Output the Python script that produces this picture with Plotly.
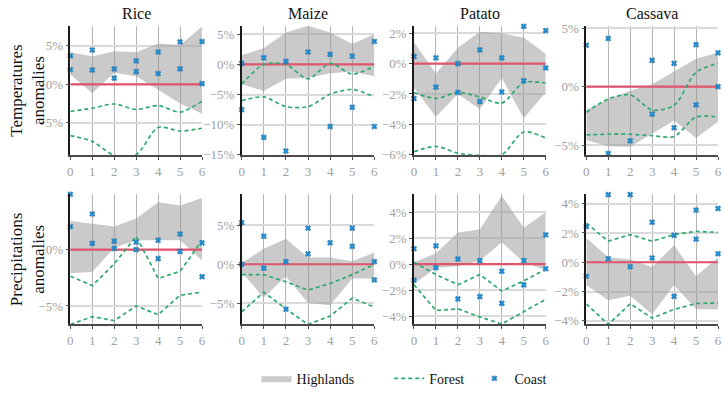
import plotly.graph_objects as go

crops = ["Rice", "Maize", "Patato", "Cassava"]
steps = [0, 1, 2, 3, 4, 5, 6]
row_titles = ["Temperatures<br>anomalies", "Precipitations<br>anomalies"]
legend_names = ["Highlands", "Forest", "Coast"]

# ---------------- Temperatures (top row) ----------------
temp_high_upper = [
    [4.15, 3.6, 4.3, 4.15, 5.3, 5.1, 7.5],
    [1.5, 2.7, 5.3, 6.4, 5.3, 3.4, 5.0],
    [1.4, -0.65, 1.05, 2.1, 2.0, 1.7, 0.65],
    [-2.0, -1.05, -0.35, 0.2, 1.3, 2.4, 2.9],
]
temp_high_lower = [
    [1.27, -1.14, 1.5, 1.06, -0.7, -2.5, -3.8],
    [-3.3, -4.4, -2.4, -2.25, -1.45, -1.2, -2.0],
    [-1.6, -3.5, -2.0, -3.0, -0.95, -3.6, -1.9],
    [-4.6, -5.1, -5.15, -4.0, -2.9, -4.4, -3.0],
]
temp_forest_a = [
    [-3.5, -3.1, -2.55, -3.25, -2.75, -3.6, -2.2],
    [-3.3, 0.0, 0.0, -2.4, 0.15, -1.6, -0.3],
    [-1.9, -2.3, -1.9, -2.2, -2.6, -1.25, -1.28],
    [-2.2, -1.05, -0.7, -2.0, -1.6, 1.23, 2.0],
]
temp_forest_b = [
    [-6.65, -7.4, -9.2, -9.1, -5.6, -6.05, -5.7],
    [-6.0, -5.4, -7.0, -7.0, -4.95, -4.15, -5.4],
    [-5.8, -5.45, -5.9, -6.05, -6.0, -4.5, -4.9],
    [-4.13, -4.08, -4.08, -4.2, -4.27, -2.6, -2.6],
]
temp_coast_a = [
    [3.7, 4.45, 2.0, 3.05, 4.2, 5.5, 5.55],
    [0.15, 1.1, 0.5, 2.05, 1.65, 1.35, 3.8],
    [0.47, 0.38, 0.0, 0.9, 0.38, 2.45, 2.17],
    [3.55, 4.13, 5.2, 2.26, 2.0, 3.6, 2.9],
]
temp_coast_b = [
    [1.9, 1.86, 0.8, 1.65, 1.4, 2.0, 0.1],
    [-7.5, -12.1, -14.35, -15.15, -10.3, -7.1, -10.3],
    [-2.3, -1.55, -1.9, -2.5, -1.87, -1.13, -0.28],
    [-5.95, -5.73, -4.64, -2.35, -3.52, -1.56, 0.0],
]
temp_ranges = [[-9.23, 7.52], [-15.1, 6.3], [-6.05, 2.45], [-5.9, 5.17]]
temp_ticks = [[-5, 0, 5], [-15, -10, -5, 0, 5], [-6, -4, -2, 0, 2], [-5, 0, 5]]

# ---------------- Precipitations (bottom row) ----------------
prec_high_upper = [
    [2.53, 2.27, 2.04, 2.75, 4.2, 3.9, 4.57],
    [0.13, 2.0, 3.25, 0.88, 0.88, 0.38, 1.5],
    [0.15, 0.84, 2.44, 2.67, 5.26, 2.8, 4.0],
    [1.67, 0.33, 0.18, -0.33, 1.16, -0.96, 0.33],
]
prec_high_lower = [
    [-2.1, -2.0, 0.17, 0.83, 0.83, 0.83, -0.97],
    [-1.0, -4.3, -1.54, -4.96, -5.25, -1.83, -1.83],
    [-1.5, -0.3, -0.15, 0.27, 1.68, 0.15, -0.47],
    [-1.56, -2.6, -2.29, -3.56, -1.56, -3.22, -3.22],
]
prec_forest_a = [
    [-2.36, -3.2, -1.26, 1.18, -2.56, -1.93, 0.83],
    [-1.33, -1.33, -2.25, -3.3, -2.46, -1.33, 0.0],
    [0.15, -0.79, -1.58, -0.79, -2.07, -1.28, -0.4],
    [2.67, 1.44, 1.89, 1.44, 1.89, 2.11, 2.04],
]
prec_forest_b = [
    [-6.64, -5.95, -6.3, -5.0, -5.77, -4.05, -3.77],
    [-6.08, -3.58, -5.7, -7.7, -6.63, -4.33, -5.47],
    [-1.58, -3.56, -3.43, -4.05, -4.6, -3.68, -2.7],
    [-2.84, -4.25, -2.84, -3.82, -3.22, -2.82, -2.78],
]
prec_coast_a = [
    [4.9, 3.16, 0.75, 0.66, 0.83, 1.38, 0.6],
    [5.33, 3.58, 0.33, 4.63, 8.96, 4.63, 0.33],
    [1.19, 1.41, 0.4, 0.27, -0.54, 0.28, 2.26],
    [2.44, 4.62, 4.62, 2.73, 1.84, 3.56, 3.67],
]
prec_coast_b = [
    [2.04, 0.55, 0.1, 0.0, -0.8, -0.17, -2.4],
    [0.0, -0.5, -5.75, 1.33, 2.75, 2.29, -2.0],
    [-1.23, -0.27, -2.67, -2.49, -3.01, -1.59, -0.35],
    [-0.96, 0.24, -0.31, 0.29, -2.33, 1.58, 0.58],
]
prec_ranges = [[-6.64, 4.9], [-7.7, 8.95], [-4.63, 5.37], [-4.25, 4.64]]
prec_ticks = [[-5, 0], [-5, 0, 5], [-4, -2, 0, 2, 4], [-4, -2, 0, 2, 4]]

zero_level = 0

# ---------------- style ----------------
W, H = 724, 413
SERIF = "Liberation Serif, DejaVu Serif, serif"
GRAY_FILL = "rgba(150,150,150,0.5)"
GREEN = "#2eaa6b"
BLUE = "#1f8dd0"
RED = "#e3546c"
TICK_COL = "#a0a0a0"

col_px = [(68, 201), (241, 375), (415, 548), (589, 722)]
row_px = [(22, 155), (195, 329)]
legend_keys = ["legend", "legend2", "legend3"]
legend_x_px = [256, 390, 476]


def fmt(v):
    s = f"{v:g}%"
    return s.replace("-", "\u2212")


fig = go.Figure()
rows = [
    (temp_high_upper, temp_high_lower, temp_forest_a, temp_forest_b,
     temp_coast_a, temp_coast_b, temp_ranges, temp_ticks, "spline"),
    (prec_high_upper, prec_high_lower, prec_forest_a, prec_forest_b,
     prec_coast_a, prec_coast_b, prec_ranges, prec_ticks, "linear"),
]

layout_axes = {}
idx = 0
for r, (hu, hl, fa, fb, ca, cb, rng, tks, shape) in enumerate(rows):
    for c in range(4):
        idx += 1
        xa = "x" if idx == 1 else f"x{idx}"
        ya = "y" if idx == 1 else f"y{idx}"
        first = (idx == 1)
        # Highlands band
        fig.add_trace(go.Scatter(x=steps, y=hl[c], xaxis=xa, yaxis=ya, mode="lines",
                                 line=dict(width=0), showlegend=False, hoverinfo="skip"))
        fig.add_trace(go.Scatter(x=steps, y=hu[c], xaxis=xa, yaxis=ya, mode="lines",
                                 line=dict(width=0), fill="tonexty", fillcolor=GRAY_FILL,
                                 name=legend_names[0], showlegend=first,
                                 legend=legend_keys[0]))
        # zero reference
        fig.add_trace(go.Scatter(x=[steps[0], steps[-1]], y=[zero_level, zero_level],
                                 xaxis=xa, yaxis=ya, mode="lines",
                                 line=dict(color=RED, width=2.2), showlegend=False,
                                 hoverinfo="skip"))
        # Forest
        for k, fs in enumerate([fa, fb]):
            fig.add_trace(go.Scatter(x=steps, y=fs[c], xaxis=xa, yaxis=ya, mode="lines",
                                     line=dict(color=GREEN, width=1.7, dash="4px,3px",
                                               shape=shape, smoothing=0.8),
                                     name=legend_names[1], showlegend=(first and k == 0),
                                     legend=legend_keys[1]))
        # Coast
        for k, cs in enumerate([ca, cb]):
            fig.add_trace(go.Scatter(x=steps, y=cs[c], xaxis=xa, yaxis=ya, mode="markers",
                                     marker=dict(symbol="x", size=5, color=BLUE,
                                                 line=dict(width=0.4, color="#13609a")),
                                     cliponaxis=False,
                                     name=legend_names[2], showlegend=(first and k == 0),
                                     legend=legend_keys[2]))
        x0, x1 = col_px[c]
        y0, y1 = row_px[r]
        xkey = "xaxis" if idx == 1 else f"xaxis{idx}"
        ykey = "yaxis" if idx == 1 else f"yaxis{idx}"
        layout_axes[xkey] = dict(
            domain=[x0 / W, x1 / W], anchor=ya, range=[steps[0], steps[-1]],
            tickvals=steps, ticktext=[str(s) for s in steps],
            showgrid=True, gridcolor="#b4b4b4", gridwidth=1,
            showline=True, linecolor="#4a4a4a", linewidth=2,
            ticks="outside", ticklen=3, tickcolor="#4a4a4a", tickwidth=1,
            tickfont=dict(family=SERIF, size=13, color=TICK_COL),
            zeroline=False, fixedrange=True,
        )
        layout_axes[ykey] = dict(
            domain=[1 - y1 / H, 1 - y0 / H], anchor=xa, range=rng[c],
            tickvals=tks[c], ticktext=[fmt(v) for v in tks[c]],
            showgrid=True, gridcolor="#dadada", gridwidth=2,
            showline=True, linecolor="#1a1a1a", linewidth=1.5,
            ticks="outside", ticklen=3, tickcolor="#555", tickwidth=1,
            tickfont=dict(family=SERIF, size=13, color=TICK_COL),
            zeroline=False, fixedrange=True,
        )

annotations = []
for c, name in enumerate(crops):
    x0, x1 = col_px[c]
    annotations.append(dict(text=name, x=(x0 + x1) / 2 / W, y=1 - 9 / H,
                            xref="paper", yref="paper", showarrow=False,
                            xanchor="center", yanchor="middle",
                            font=dict(family=SERIF, size=16, color="#111")))
for r, t in enumerate(row_titles):
    y0, y1 = row_px[r]
    annotations.append(dict(text=t, x=25 / W, y=1 - (y0 + y1) / 2 / H,
                            xref="paper", yref="paper", showarrow=False,
                            xanchor="center", yanchor="middle", textangle=-90,
                            font=dict(family=SERIF, size=17, color="#111")))

legends = {}
for key, lx in zip(legend_keys, legend_x_px):
    legends[key] = dict(orientation="h", x=lx / W, xanchor="left", y=0.028,
                        yanchor="bottom", font=dict(family=SERIF, size=14, color="#111"),
                        bgcolor="rgba(0,0,0,0)")

fig.update_layout(
    width=W, height=H,
    margin=dict(l=0, r=0, t=0, b=0),
    paper_bgcolor="white", plot_bgcolor="white",
    annotations=annotations,
    **legends,
    **layout_axes,
)

fig.write_html("out.html")
